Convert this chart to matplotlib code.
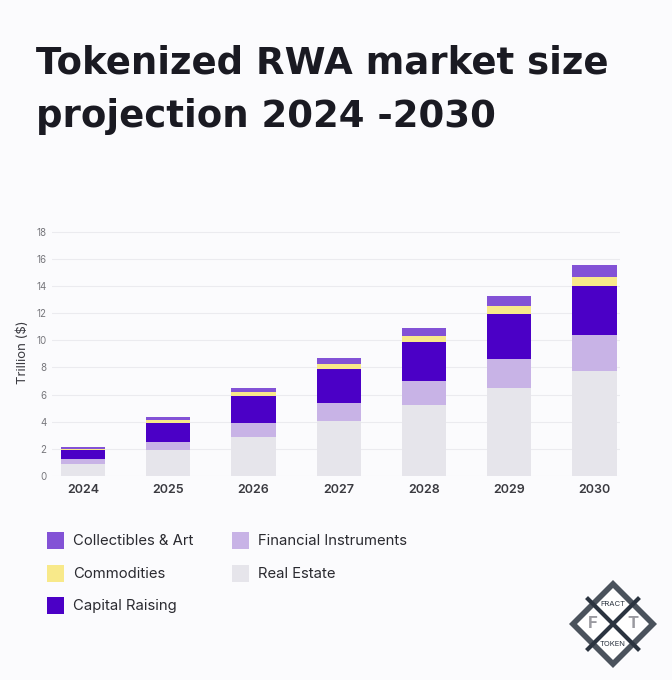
import matplotlib
matplotlib.use("Agg")
import matplotlib.pyplot as plt
import numpy as np
from matplotlib.patches import Polygon, Rectangle

years = ["2024", "2025", "2026", "2027", "2028", "2029", "2030"]
real_estate = [0.9, 1.9, 2.9, 4.05, 5.2, 6.45, 7.75]
financial_instruments = [0.32, 0.62, 1.02, 1.36, 1.8, 2.2, 2.65]
capital_raising = [0.7, 1.4, 1.98, 2.45, 2.9, 3.3, 3.6]
commodities = [0.06, 0.18, 0.28, 0.4, 0.45, 0.6, 0.7]
collectibles = [0.15, 0.22, 0.3, 0.42, 0.57, 0.69, 0.85]

series = [
    ("Real Estate", real_estate, "#e6e5eb"),
    ("Financial Instruments", financial_instruments, "#c8b3e6"),
    ("Capital Raising", capital_raising, "#4b00c6"),
    ("Commodities", commodities, "#f8e98a"),
    ("Collectibles & Art", collectibles, "#8352d6"),
]
legend_order = [
    ("Collectibles & Art", "#8352d6"),
    ("Financial Instruments", "#c8b3e6"),
    ("Commodities", "#f8e98a"),
    ("Real Estate", "#e6e5eb"),
    ("Capital Raising", "#4b00c6"),
]

plt.rcParams['font.family'] = ['Inter', 'DejaVu Sans']
bg = "#fbfbfd"
fig = plt.figure(figsize=(6.72, 6.80), dpi=100, facecolor=bg)

title_font = dict(family=["DejaVu Sans"], fontsize=26.7, fontweight="bold", color="#1a1a22")
fig.text(36/672, 1 - 73/680, "Tokenized RWA market size", ha="left", va="baseline", **title_font)
fig.text(36/672, 1 - 127/680, "projection 2024 -2030", ha="left", va="baseline", **title_font)

ax = fig.add_axes([52/672, 204/680, 568/672, 18.3*13.57/680])
ax.set_facecolor(bg)
x = np.arange(len(years))
bottom = np.zeros(len(years))
for name, vals, col in series:
    v = np.array(vals)
    ax.bar(x, v, bottom=bottom, width=0.52, color=col, label=name, zorder=3)
    bottom += v

ax.set_xlim(-0.364, 6.30)
ax.set_ylim(0, 18.3)
ax.set_yticks(np.arange(0, 19, 2))
ax.set_xticks(x)
ax.set_xticklabels(years, fontsize=9, fontweight="semibold", color="#3a3a40")
ax.tick_params(axis="y", length=0, labelsize=7, labelcolor="#77777c", pad=4)
ax.tick_params(axis="x", length=0, pad=6)
for s in ax.spines.values():
    s.set_visible(False)
ax.grid(axis="y", color="#ebebef", linewidth=0.8, zorder=0)
ax.set_ylabel("Trillion ($)", fontsize=9.5, color="#3a3a40", labelpad=5)

# legend (manual grid)
rows_y = [541, 574, 606]
cols_x = [47, 232]
for i, (name, col) in enumerate(legend_order):
    r, c = i // 2, i % 2
    xs = cols_x[c]
    ys = rows_y[r]
    fig.patches.append(Rectangle((xs/672, 1 - (ys + 8)/680), 17/672, 17/680,
                                 transform=fig.transFigure, facecolor=col, edgecolor="none"))
    fig.text((xs + 26)/672, 1 - ys/680, name, fontsize=10.7, color="#2a2a30",
             ha="left", va="center")

# logo
cx, cy, r = 613/672, 1 - 624/680, 40
def pt(dx, dy):
    return (cx + dx/672, cy + dy/680)
outer = Polygon([pt(0, r+4), pt(r+4, 0), pt(0, -r-4), pt(-r-4, 0)], closed=True,
                transform=fig.transFigure, facecolor="#2b3440", edgecolor="none", alpha=0.85)
inner = Polygon([pt(0, r-4), pt(r-4, 0), pt(0, -r+4), pt(-r+4, 0)], closed=True,
                transform=fig.transFigure, facecolor="white", edgecolor="none")
fig.patches.extend([outer, inner])
fig.lines.append(plt.Line2D([cx - 25/672, cx + 25/672], [cy - 25/680, cy + 25/680],
                            transform=fig.transFigure, color="#2b3440", lw=3))
fig.lines.append(plt.Line2D([cx - 25/672, cx + 25/672], [cy + 25/680, cy - 25/680],
                            transform=fig.transFigure, color="#2b3440", lw=3))
fig.text(cx, cy + 20/680, "FRACT", fontsize=5.5, color="#2b3440", ha="center", va="center")
fig.text(cx, cy - 20/680, "TOKEN", fontsize=5.5, color="#2b3440", ha="center", va="center")
fig.text(cx - 20/672, cy, "F", fontsize=12, fontweight="bold", color="#9a9aa0", ha="center", va="center")
fig.text(cx + 20/672, cy, "T", fontsize=12, fontweight="bold", color="#9a9aa0", ha="center", va="center")

fig.savefig("out.png", dpi=100, facecolor=bg)
